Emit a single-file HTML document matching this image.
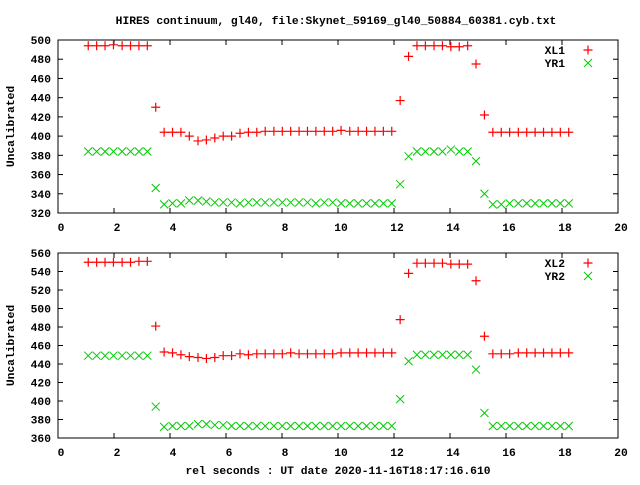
<!DOCTYPE html>
<html><head><meta charset="utf-8"><style>
body{margin:0;background:#fff}
svg text{font-family:"Liberation Mono","DejaVu Sans Mono",monospace;font-size:11.3px;font-weight:bold;fill:#000}
</style></head><body>
<svg id="c" width="640" height="480" xmlns="http://www.w3.org/2000/svg">
<rect width="640" height="480" fill="#fff"/>
<text x="336" y="24" text-anchor="middle">HIRES continuum, gl40, file:Skynet_59169_gl40_50884_60381.cyb.txt</text>
<text x="338" y="474" text-anchor="middle">rel seconds : UT date 2020-11-16T18:17:16.610</text>
<g id="g"></g>
</svg>
<script>
const times=[1.08,1.38,1.68,1.98,2.29,2.59,2.89,3.19,3.49,3.79,4.09,4.39,4.69,5.00,5.30,5.60,5.90,6.20,6.50,6.80,7.10,7.40,7.71,8.01,8.31,8.61,8.91,9.21,9.51,9.81,10.11,10.42,10.72,11.02,11.32,11.62,11.92,12.22,12.52,12.82,13.12,13.43,13.73,14.03,14.33,14.63,14.93,15.23,15.53,15.83,16.13,16.44,16.74,17.04,17.34,17.64,17.94,18.24];
const xl1=[494,494,494,495,494,494,494,494,430,404,404,404,400,395,396,398,400,400,403,404,404,405,405,405,405,405,405,405,405,405,406,405,405,405,405,405,405,437,483,494,494,494,494,493,493,494,475,422,404,404,404,404,404,404,404,404,404,404];
const yr1=[384,384,384,384,384,384,384,384,346,329,330,330,333,333,332,331,331,331,330,331,331,331,331,331,331,331,331,330,331,331,330,330,330,330,330,330,330,350,379,384,384,384,384,386,384,384,374,340,329,329,330,330,330,330,330,330,330,330];
const xl2=[550,550,550,550,550,550,551,551,481,453,452,450,448,447,446,447,449,449,451,450,451,451,451,451,452,451,451,451,451,451,452,452,452,452,452,452,452,488,538,549,549,549,549,548,548,548,530,470,451,451,451,452,452,452,452,452,452,452];
const yr2=[449,449,449,449,449,449,449,449,394,372,373,373,373,375,375,374,374,373,373,373,373,373,373,373,373,373,373,373,373,373,373,373,373,373,373,373,373,402,443,450,450,450,450,450,450,450,434,387,373,373,373,373,373,373,373,373,373,373];
const xTicks=[0,2,4,6,8,10,12,14,16,18,20];
const yTicks1=[320,340,360,380,400,420,440,460,480,500];
const yTicks2=[360,380,400,420,440,460,480,500,520,540,560];
const NS="http://www.w3.org/2000/svg";
const g=document.getElementById('g');
function mk(t,a,p){const e=document.createElementNS(NS,t);for(const k in a)e.setAttribute(k,a[k]);(p||g).appendChild(e);return e;}
const X0=58,X1=618;
const sx=v=>X0+(v-0)/(20-0)*(X1-X0);
function panel(top,bot,ymin,ymax,yt,s1,s2,n1,n2,key){
  const sy=v=>bot-(v-ymin)/(ymax-ymin)*(bot-top);
  const pg=mk('g',{});
  
  
  const fr=mk('rect',{x:X0,y:top,width:X1-X0,height:bot-top,fill:'none',stroke:'#000','stroke-width':1},pg);
  
  
  xTicks.forEach(t=>{
    const x=sx(t);
    mk('line',{x1:x,y1:bot,x2:x,y2:bot-5,stroke:'#000'},pg);
    mk('line',{x1:x,y1:top,x2:x,y2:top+5,stroke:'#000'},pg);
    const tx=mk('text',{x:x+3,y:bot+18,'text-anchor':'middle'},pg);tx.textContent=t;
    
    
  });
  yt.forEach(t=>{
    const y=sy(t);
    mk('line',{x1:X0,y1:y,x2:X0+5,y2:y,stroke:'#000'},pg);
    mk('line',{x1:X1,y1:y,x2:X1-5,y2:y,stroke:'#000'},pg);
    const tx=mk('text',{x:X0-7,y:y+4,'text-anchor':'end'},pg);tx.textContent=t;
    
    
  });
  const yl=mk('text',{x:14,y:(top+bot)/2,'text-anchor':'middle',transform:`rotate(-90 14 ${(top+bot)/2})`},pg);
  yl.textContent='Uncalibrated';
  
  
  const plus=(x,y,p)=>{mk('path',{d:`M${x-4.5} ${y}H${x+4.5}M${x} ${y-4.5}V${y+4.5}`,stroke:'#f00','stroke-width':1.2,fill:'none'},p)};
  const cross=(x,y,p)=>{mk('path',{d:`M${x-4} ${y-4}L${x+4} ${y+4}M${x-4} ${y+4}L${x+4} ${y-4}`,stroke:'#0c0','stroke-width':1,fill:'none'},p)};
  const g1=mk('g',{},pg);
  const g2=mk('g',{},pg);
  times.forEach((t,i)=>{plus(sx(t),sy(s1[i]),g1);cross(sx(t),sy(s2[i]),g2);});
  const l1=mk('text',{x:565,y:top+14,'text-anchor':'end'},pg);l1.textContent=n1;
  
  plus(588,top+10,pg);
  const l2=mk('text',{x:565,y:top+27,'text-anchor':'end'},pg);l2.textContent=n2;
  
  cross(588,top+23,pg);
}
panel(40,213,320,500,yTicks1,xl1,yr1,'XL1','YR1','top');
panel(253,438,360,560,yTicks2,xl2,yr2,'XL2','YR2','bottom');
</script>
</body></html>
